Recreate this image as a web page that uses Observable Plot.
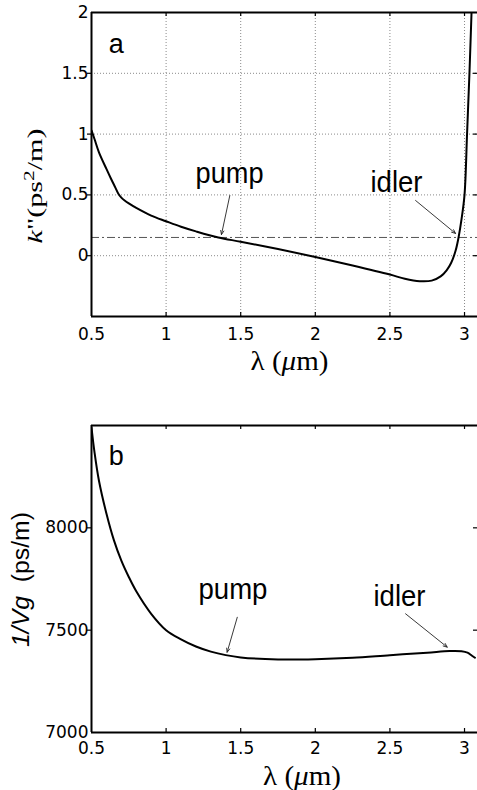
<!DOCTYPE html>
<html><head><meta charset="utf-8">
<script src="https://cdn.jsdelivr.net/npm/d3@7"></script>
<script src="https://cdn.jsdelivr.net/npm/@observablehq/plot@0.6"></script>
<style>
body{margin:0;background:#fff;}
#chart svg{display:block;}
</style>
</head><body><div id="chart"></div>
<script>
// ---- data ----
const lambdaA = [0.5,0.52,0.55,0.6,0.63,0.66,0.68,0.7,0.72,0.75,0.8,0.9,1.0,1.1,1.2,1.35,1.5,1.75,2.0,2.25,2.5,2.6,2.7,2.78,2.84,2.88,2.91,2.94,2.96,2.98,3.0,3.017,3.033,3.047];
const kA      = [1.03,0.96,0.85,0.714,0.635,0.56,0.51,0.478,0.456,0.43,0.393,0.33,0.283,0.238,0.20,0.15,0.115,0.055,-0.01,-0.08,-0.155,-0.19,-0.21,-0.205,-0.17,-0.12,-0.06,0.04,0.15,0.3,0.5,1.0,1.5,2.0];
const lambdaB = [0.5,0.52,0.55,0.6,0.65,0.7,0.75,0.8,0.9,1.0,1.1,1.2,1.3,1.4,1.5,1.75,2.0,2.25,2.5,2.75,2.9,2.98,3.02,3.05,3.07];
const invVgB  = [8490,8370,8230,8070,7940,7840,7760,7690,7580,7500,7455,7420,7395,7378,7367,7357,7358,7365,7378,7390,7398,7397,7390,7375,7365];

const xTicks = [0.5,1,1.5,2,2.5,3];
const yTicksA = [0,0.5,1,1.5,2];
const yTicksB = [7000,7500,8000];
const gridXA = [1,1.5,2,2.5,3];
const gridYA = [0,0.5,1,1.5];
const pumpLevelA = [0.15];

const noteTextA = ["pump","idler"];
const noteXA = [1.425,2.544];
const noteYA = [0.673,0.601];
const arrowX1A = [1.427,2.672], arrowY1A = [0.495,0.454];
const arrowX2A = [1.371,2.94],  arrowY2A = [0.174,0.183];

const noteTextB = ["pump","idler"];
const noteXB = [1.448,2.564];
const noteYB = [7700,7663];
const arrowX1B = [1.477,2.605], arrowY1B = [7563,7580];
const arrowX2B = [1.409,2.884], arrowY2B = [7392,7417];

const panelTag = ["a","b"];
const panelTagX = [0.666,0.666];
const panelTagY = [1.737,8349];

const xLabel = "λ (μm)";
const yLabelA = "k\"(ps2/m)";
const yLabelB = "1/Vg  (ps/m)";

const xDomain = [0.5,3.087];

const W = 477, ML = 91, MR = 0;
const tickFont = "DejaVu Sans";
const noteFont = "Liberation Sans, Arial, sans-serif";
const serif = "Liberation Serif, Times New Roman, serif";

function panel(o){
  const pw = W - ML - MR, ph = o.H - o.MT - o.MB;
  const notes = o.noteText.map((t,i)=>({t, x:o.noteX[i], y:o.noteY[i]}));
  const arrows = o.ax1.map((_,i)=>({x1:o.ax1[i],y1:o.ay1[i],x2:o.ax2[i],y2:o.ay2[i]}));
  const curve = o.lx.map((x,i)=>({x, y:o.ly[i]}));
  const yInner = o.yTicks.filter(v=>v!==o.yDomain[0] && v!==o.yDomain[1]);
  const marks = [];
  if (o.gridX) marks.push(Plot.ruleX(o.gridX, {x:d=>d, stroke:"#8a8a8a", strokeWidth:1, strokeDasharray:"1,2"}));
  if (o.gridY) marks.push(Plot.ruleY(o.gridY, {y:d=>d, stroke:"#8a8a8a", strokeWidth:1, strokeDasharray:"1,2"}));
  if (o.level) marks.push(Plot.ruleY(o.level, {y:d=>d, stroke:"#555", strokeWidth:1, strokeDasharray:"8,3,2,3"}));
  marks.push(
    Plot.line(curve, {x:"x", y:"y", curve:"catmull-rom", stroke:"black", strokeWidth:2, clip:true}),
    // frame (left, top, bottom)
    Plot.ruleX([o.xDomain0], {x:d=>d, strokeWidth:2}),
    Plot.ruleY([o.yDomain[1]], {y:d=>d, strokeWidth:2}),
    Plot.ruleY([o.yDomain[0]], {y:d=>d, strokeWidth:2}),
    // ticks
    Plot.ruleX(xTicks.slice(1), {x:d=>d, insetBottom:ph-4, strokeWidth:1.2}),
    Plot.ruleX(xTicks.slice(1), {x:d=>d, insetTop:ph-4, strokeWidth:1.2}),
    Plot.ruleY(yInner, {y:d=>d, insetLeft:-4, insetRight:pw, strokeWidth:1.2}),
    Plot.ruleY(yInner, {y:d=>d, insetLeft:pw-4, strokeWidth:1.2}),
    // tick labels
    Plot.text(xTicks, {x:d=>d, frameAnchor:"bottom", lineAnchor:"middle", dy:o.xdy, text:d=>String(d), fontFamily:tickFont, fontSize:17}),
    Plot.text(o.yTicks, {y:d=>d, frameAnchor:"left", dx:-3, textAnchor:"end", text:d=>String(d), fontFamily:tickFont, fontSize:17}),
    // annotations
    Plot.text(notes, {x:"x", y:"y", text:"t", fontFamily:noteFont, fontSize:30}),
    Plot.text([o.tag], {x:()=>o.tagX, y:()=>o.tagY, text:d=>d, fontFamily:noteFont, fontSize:27}),
    Plot.arrow(arrows, {x1:"x1", y1:"y1", x2:"x2", y2:"y2", stroke:"#222", strokeWidth:0.9, headLength:7, headAngle:45}),
    // axis labels
    Plot.text([xLabel], {frameAnchor:"bottom", lineAnchor:"middle", textAnchor:"middle", dx:o.xlDx, dy:o.xlDy, text:d=>d, fontFamily:serif, fontSize:27}),
    Plot.text([o.yLabel], {frameAnchor:"left", lineAnchor:"middle", textAnchor:"middle", dx:o.ylDx, dy:o.ylDy, rotate:-90, text:d=>d, fontFamily:o.yFont, fontSize:o.yFontSize})
  );
  return Plot.plot({
    width: W, height: o.H,
    marginLeft: ML, marginRight: MR, marginTop: o.MT, marginBottom: o.MB,
    x: {domain: xDomain, axis: null},
    y: {domain: o.yDomain, axis: null},
    style: {background:"white", overflow:"visible", fontFamily: tickFont},
    marks
  });
}

const svgA = panel({
  H:390, MT:12, MB:74, yDomain:[-0.5,2], yTicks:yTicksA, xDomain0:0.5,
  gridX:gridXA, gridY:gridYA, level:pumpLevelA,
  lx:lambdaA, ly:kA,
  noteText:noteTextA, noteX:noteXA, noteY:noteYA,
  ax1:arrowX1A, ay1:arrowY1A, ax2:arrowX2A, ay2:arrowY2A,
  tag:panelTag[0], tagX:panelTagX[0], tagY:panelTagY[0],
  xdy:18, xlDx:5, xlDy:45,
  yLabel:yLabelA, yFont:serif, yFontSize:21, ylDx:-56, ylDy:21.5
});
const svgB = panel({
  H:400, MT:35, MB:58, yDomain:[7000,8500], yTicks:yTicksB, xDomain0:0.5,
  lx:lambdaB, ly:invVgB,
  noteText:noteTextB, noteX:noteXB, noteY:noteYB,
  ax1:arrowX1B, ay1:arrowY1B, ax2:arrowX2B, ay2:arrowY2B,
  tag:panelTag[1], tagX:panelTagX[1], tagY:panelTagY[1],
  xdy:16, xlDx:17.5, xlDy:43.5,
  yLabel:yLabelB, yFont:noteFont, yFontSize:24, ylDx:-70, ylDy:0.5
});
const chart = document.getElementById("chart");
chart.appendChild(svgA);
chart.appendChild(svgB);

// rich text styling (italic, superscript) and stretch along the reading direction to match the reference
function restyle(svg, match, html, target){
  d3.select(svg).selectAll("text").filter(function(){return this.textContent===match;})
    .each(function(){
      if (html) this.innerHTML = html;
      if (target) {
        const len = this.getBBox().width;
        if (len > 0) {
          let t = this.getAttribute("transform");
          if (!t) {
            const x = +this.getAttribute("x") || 0, y = +this.getAttribute("y") || 0;
            this.removeAttribute("x"); this.removeAttribute("y");
            t = `translate(${x},${y})`;
          }
          this.setAttribute("transform", `${t} scale(${target/len},1)`);
        }
      }
    });
}
restyle(svgA, yLabelA, '<tspan font-style="italic">k</tspan>"(ps<tspan dy="-8" font-size="15">2</tspan><tspan dy="8">/m)</tspan>', 115);
restyle(svgA, xLabel, 'λ (<tspan font-style="italic">μ</tspan>m)', 78);
restyle(svgB, xLabel, 'λ (<tspan font-style="italic">μ</tspan>m)', 78);
restyle(svgB, yLabelB, '<tspan font-style="italic">1/Vg</tspan>\u00a0\u00a0(ps/m)', 135);
restyle(svgA, "pump", null, 68);
restyle(svgA, "idler", null, 52);
restyle(svgB, "pump", null, 69);
restyle(svgB, "idler", null, 52);
</script>
</body></html>
